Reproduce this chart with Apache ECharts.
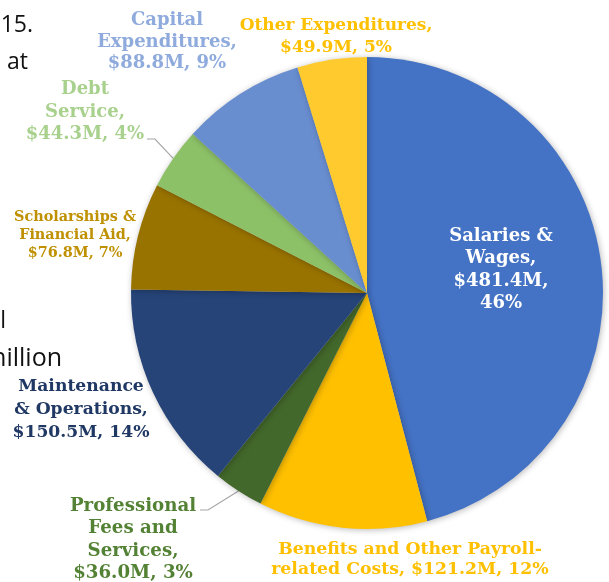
<!DOCTYPE html>
<html>
<head>
<meta charset="utf-8">
<script src="https://cdn.jsdelivr.net/npm/echarts@6/dist/echarts.min.js"></script>
<style>
html,body{margin:0;padding:0;background:#fff;}
#c{width:609px;height:582px;}
</style>
</head>
<body>
<div id="c"></div>
<script>
// ---- data ----
var categories = [
  'Salaries &\nWages',
  'Benefits and Other Payroll-\nrelated Costs',
  'Professional\nFees and\nServices',
  'Maintenance\n& Operations',
  'Scholarships &\nFinancial Aid',
  'Debt\nService',
  'Capital\nExpenditures',
  'Other Expenditures'
];
var valuesM = [481.4, 121.2, 36.0, 150.5, 76.8, 44.3, 88.8, 49.9];
var percentLabels = [46, 12, 3, 14, 7, 4, 9, 5];

// ---- styles ----
var sliceColors = ['#4472C4', '#FFC000', '#43682B', '#264478', '#997300', '#8DC168', '#698ED0', '#FFCA2E'];
var labelColors = ['#FFFFFF', '#FFC000', '#548235', '#203864', '#BF9000', '#A9D18E', '#8FAADC', '#FFC000'];
var labelSizes = [18, 17.3, 18.2, 17.2, 14.4, 18, 18, 17];
var labelLineHeights = [22.5, 20, 22.5, 23, 18, 22.5, 21.5, 22];
var labelPos = [[501, 270], [410, 560], [133, 540], [81, 410], [75, 235], [85, 112], [167, 42], [336, 37]];
// leader lines: [elbow, end] for labels that have one
var leaders = [null, null, [[208, 510], [200, 510]], null, null, [[155, 139], [147, 139]], null, null];
var valueSep = ['\n', ' ', '\n', '\n', '\n', '\n', '\n', '\n'];
var pctSep = [',\n', ', ', ', ', ', ', ', ', ', ', ', ', ', '];

var chart = echarts.init(document.getElementById('c'), null, {renderer: 'canvas'});

var data = categories.map(function (name, i) {
  return {
    name: name,
    value: valuesM[i],
    itemStyle: {color: sliceColors[i]},
    label: {
      color: labelColors[i],
      fontSize: labelSizes[i],
      lineHeight: labelLineHeights[i]
    },
    labelLine: {show: !!leaders[i]}
  };
});

var bgFont = '23px "Open Sans", "Liberation Sans", sans-serif';
chart.setOption({
  animation: false,
  backgroundColor: '#ffffff',
  graphic: [
    {type: 'text', style: {text: '15.', x: 33, y: 14, align: 'right', verticalAlign: 'alphabetic', font: bgFont, fill: '#111'}},
    {type: 'text', style: {text: 'at', x: 28, y: 51, align: 'right', verticalAlign: 'alphabetic', font: bgFont, fill: '#111'}},
    {type: 'text', style: {text: 'al', x: 6, y: 310, align: 'right', verticalAlign: 'alphabetic', font: bgFont, fill: '#111'}},
    {type: 'text', style: {text: 'million', x: 62, y: 346, align: 'right', verticalAlign: 'alphabetic', font: '25px "Open Sans", "Liberation Sans", sans-serif', fill: '#111'}},
    {type: 'text', style: {text: '-', x: 8, y: 578, align: 'right', verticalAlign: 'alphabetic', font: bgFont, fill: '#111'}}
  ],
  series: [{
    type: 'pie',
    center: [367, 293],
    radius: [0, 236],
    startAngle: 90,
    clockwise: true,
    avoidLabelOverlap: false,
    itemStyle: {
      shadowBlur: 6,
      shadowColor: 'rgba(0,0,0,0.28)',
      shadowOffsetX: 1,
      shadowOffsetY: 1
    },
    label: {
      show: true,
      position: 'outside',
      fontFamily: '"DejaVu Serif", "Liberation Serif", serif',
      fontWeight: 'bold',
      align: 'center',
      formatter: function (p) {
        var i = p.dataIndex;
        return p.name + ',' + valueSep[i] + '$' + valuesM[i].toFixed(1) + 'M' + pctSep[i] + percentLabels[i] + '%';
      }
    },
    labelLine: {
      show: false,
      length: 10,
      length2: 8,
      lineStyle: {color: '#A6A6A6', width: 1.2}
    },
    labelLayout: function (params) {
      var i = params.dataIndex;
      var p = labelPos[i];
      var out = {x: p[0], y: p[1], align: 'center', verticalAlign: 'middle'};
      if (leaders[i] && params.labelLinePoints) {
        out.labelLinePoints = [params.labelLinePoints[0], leaders[i][0], leaders[i][1]];
      }
      return out;
    },
    emphasis: {disabled: true},
    data: data
  }]
});
</script>
</body>
</html>
